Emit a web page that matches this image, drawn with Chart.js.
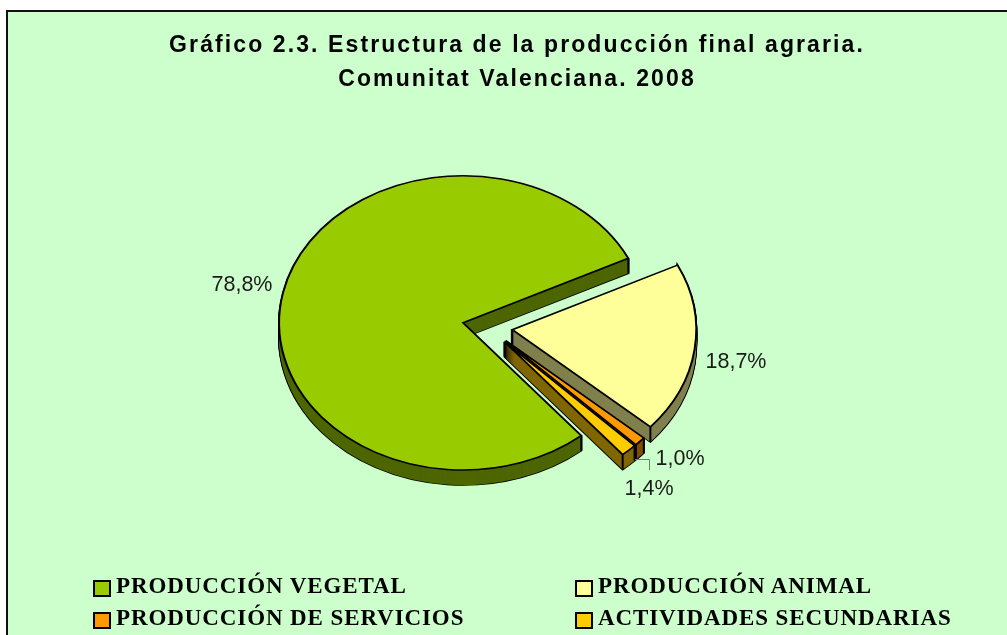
<!DOCTYPE html>
<html>
<head>
<meta charset="utf-8">
<style>
  html, body { margin: 0; padding: 0; background: #fff; overflow: hidden; width: 1007px; height: 635px; }
  #frame { position: absolute; left: 6px; top: 10px; width: 1010px; height: 640px; background: #CCFFCC; border: 2px solid #111; }
  #myChart { position: absolute; left: 0; top: 0; }
  .legendItem { position: absolute; height: 24px; font: bold 23px "Liberation Serif", serif; letter-spacing: 0.9px; color: #000; white-space: nowrap; line-height: 24px; }
  .legendBox { position: absolute; left: 0; top: 6px; width: 14px; height: 13px; border: 2px solid #000; }
  .legendText { position: absolute; left: 23px; top: 0; }
</style>
</head>
<body>
<div id="frame"></div>
<canvas id="myChart" width="1007" height="635"></canvas>
<div id="legend"></div>
<script src="https://cdn.jsdelivr.net/npm/chart.js@4"></script>
<script>
var categories = ["PRODUCCIÓN VEGETAL", "PRODUCCIÓN ANIMAL", "PRODUCCIÓN DE SERVICIOS", "ACTIVIDADES SECUNDARIAS"];
var shares = [78.8, 18.7, 1.0, 1.4];
var titleLines = ["Gráfico 2.3. Estructura de la producción final agraria.", "Comunitat Valenciana. 2008"];

var sliceColors = ["#99CC00", "#FFFF99", "#FF9900", "#FFCC00"];
var wallColors = ["#4D6600", "#80804D", "#804D00", "#806600"];

var tilt = 0.8;
var depth = 15;
var explode = 25;
var shiftX = -29.5;
var labelSpots = [[242, 285], [736, 362], [680, 459], [649, 489]];
var legendSpots = [[93, 574], [575, 574], [93, 606], [575, 606]];

function drawArcAs(arc, ctx, fill, line) {
  var saved = arc.options;
  arc.options = Object.assign({}, saved, { backgroundColor: fill, borderColor: line });
  arc.draw(ctx);
  arc.options = saved;
}

// slices are exploded and tilted here, the angles and radius come from the chart
var pie3d = {
  id: "pie3d",
  beforeDraw: function (chart) {
    chart.ctx.letterSpacing = "2.1px";
  },
  beforeDatasetDraw: function () {
    return false;
  },
  afterDatasetsDraw: function (chart) {
    var ctx = chart.ctx;
    var arcs = chart.getDatasetMeta(0).data;
    var cy = arcs[0].y;
    var step = 1 / tilt;
    ctx.save();
    ctx.translate(shiftX, cy * (1 - tilt));
    ctx.scale(1, tilt);

    arcs.forEach(function (arc, i) {
      var half = (arc.startAngle + arc.endAngle) / 2;
      var ox = Math.cos(half) * explode;
      var oy = Math.sin(half) * explode;
      var d;
      ctx.save();
      ctx.translate(ox, oy);
      for (d = depth; d >= 1; d--) {
        ctx.save();
        ctx.translate(0, d * step);
        drawArcAs(arc, ctx, "#000", "#000");
        ctx.restore();
      }
      for (d = depth; d >= 1; d--) {
        ctx.save();
        ctx.translate(0, d * step);
        drawArcAs(arc, ctx, wallColors[i], "rgba(0,0,0,0)");
        ctx.restore();
      }
      // edge lines of the wall at the corners
      var r = arc.outerRadius;
      var corners = [[arc.x, arc.y],
        [arc.x + Math.cos(arc.startAngle) * r, arc.y + Math.sin(arc.startAngle) * r],
        [arc.x + Math.cos(arc.endAngle) * r, arc.y + Math.sin(arc.endAngle) * r]];
      ctx.strokeStyle = "#000";
      ctx.lineWidth = 2;
      corners.forEach(function (c) {
        ctx.beginPath();
        ctx.moveTo(c[0], c[1]);
        ctx.lineTo(c[0], c[1] + depth * step);
        ctx.stroke();
      });
      ctx.restore();
    });

    arcs.forEach(function (arc) {
      var half = (arc.startAngle + arc.endAngle) / 2;
      ctx.save();
      ctx.translate(Math.cos(half) * explode, Math.sin(half) * explode);
      arc.draw(ctx);
      ctx.restore();
    });
    ctx.restore();

    ctx.save();
    ctx.letterSpacing = "0px";
    ctx.font = '21.5px "Liberation Sans", Arial, sans-serif';
    ctx.fillStyle = "#1a1a1a";
    ctx.textAlign = "center";
    ctx.textBaseline = "middle";
    shares.forEach(function (v, i) {
      ctx.fillText(v.toFixed(1).replace(".", ",") + "%", labelSpots[i][0], labelSpots[i][1]);
    });
    // leader line of the 1,4% label
    ctx.strokeStyle = "#777";
    ctx.lineWidth = 1;
    ctx.beginPath();
    ctx.moveTo(635, 459.5);
    ctx.lineTo(649.5, 459.5);
    ctx.lineTo(649.5, 470);
    ctx.stroke();
    ctx.restore();
  }
};

var ctx = document.getElementById("myChart").getContext("2d");
var myChart = new Chart(ctx, {
  type: "pie",
  data: {
    labels: categories,
    datasets: [{
      data: shares,
      backgroundColor: sliceColors,
      borderColor: "#000",
      borderWidth: 2,
      borderJoinStyle: "miter",
      clip: false
    }]
  },
  options: {
    responsive: false,
    animation: false,
    rotation: 140,
    layout: { padding: { left: 27, right: 0, top: 0, bottom: 123 } },
    plugins: {
      legend: { display: false },
      tooltip: { enabled: false },
      title: {
        display: true,
        text: titleLines,
        color: "#000",
        font: { family: '"Liberation Sans", Arial, sans-serif', size: 23, weight: "bold", lineHeight: 1.48 },
        padding: { top: 29, bottom: 45 }
      }
    }
  },
  plugins: [pie3d]
});

// legend goes in html so the two columns line up
var legendBox = document.getElementById("legend");
Chart.overrides.pie.plugins.legend.labels.generateLabels(myChart).forEach(function (item, i) {
  var row = document.createElement("div");
  row.className = "legendItem";
  row.style.left = legendSpots[i][0] + "px";
  row.style.top = legendSpots[i][1] + "px";
  var box = document.createElement("span");
  box.className = "legendBox";
  box.style.background = item.fillStyle;
  var text = document.createElement("span");
  text.className = "legendText";
  text.textContent = item.text;
  row.appendChild(box);
  row.appendChild(text);
  legendBox.appendChild(row);
});
</script>
</body>
</html>
